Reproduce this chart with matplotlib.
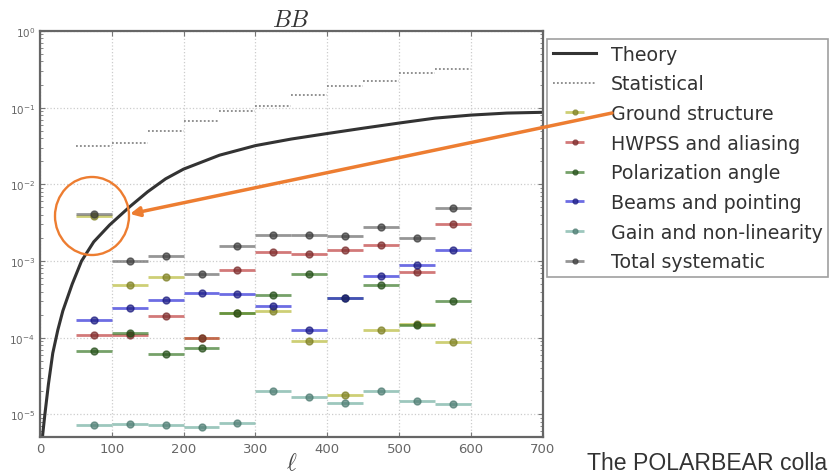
import matplotlib
matplotlib.use("Agg")
import matplotlib.pyplot as plt
from matplotlib.patches import Ellipse, FancyArrowPatch

plt.rcParams["mathtext.fontset"] = "cm"

# =========================
# DATA
# =========================

ell = [75, 125, 175, 225, 275, 325, 375, 425, 475, 525, 575]
bin_half = 25

theory_ell = [2, 4, 7, 12, 18, 25, 32, 45, 58, 75, 97, 125, 150, 175, 200,
              250, 300, 350, 400, 450, 500, 550, 600, 650, 700]
theory = [2.5e-6, 5.5e-6, 1.0e-5, 2.5e-5, 6.3e-5, 1.26e-4, 2.24e-4, 5.0e-4,
          1.0e-3, 1.78e-3, 2.95e-3, 5.1e-3, 8.0e-3, 0.0118, 0.0158, 0.024,
          0.032, 0.039, 0.046, 0.054, 0.063, 0.073, 0.080, 0.085, 0.087]

statistical = [0.032, 0.035, 0.049, 0.066, 0.091, 0.106, 0.147, 0.19,
               0.22, 0.28, 0.32]

ground = [3.9e-3, 4.9e-4, 6.2e-4, 1.0e-4, 2.1e-4, 2.2e-4, 9.1e-5, 1.77e-5,
          1.28e-4, 1.5e-4, 8.7e-5]
hwpss = [1.1e-4, 1.1e-4, 1.9e-4, 1.0e-4, 7.6e-4, 1.3e-3, 1.24e-3, 1.38e-3,
         1.6e-3, 7.2e-4, 3.0e-3]
pol_angle = [6.8e-5, 1.15e-4, 6.2e-5, 7.4e-5, 2.1e-4, 3.6e-4, 6.8e-4,
             3.3e-4, 4.9e-4, 1.48e-4, 3.0e-4]
beams = [1.7e-4, 2.45e-4, 3.1e-4, 3.8e-4, 3.7e-4, 2.6e-4, 1.27e-4, 3.3e-4,
         6.4e-4, 8.9e-4, 1.4e-3]
gain = [7.2e-6, 7.6e-6, 7.2e-6, 6.9e-6, 7.7e-6, 2.0e-5, 1.7e-5, 1.4e-5,
        2.0e-5, 1.5e-5, 1.35e-5]
total = [4.1e-3, 1.0e-3, 1.15e-3, 6.8e-4, 1.56e-3, 2.2e-3, 2.2e-3, 2.1e-3,
         2.8e-3, 2.0e-3, 4.9e-3]

series = [
    ("Ground structure", ground, "#b9bb3c", "#7d7f22"),
    ("HWPSS and aliasing", hwpss, "#c04040", "#7a2a2a"),
    ("Polarization angle", pol_angle, "#3c7a2a", "#244d18"),
    ("Beams and pointing", beams, "#2f2fd8", "#1a1a80"),
    ("Gain and non-linearity", gain, "#74b0a2", "#4c7a70"),
    ("Total systematic", total, "#6a6a6a", "#3a3a3a"),
]

# =========================
# FIGURE
# =========================

fig = plt.figure(figsize=(8.3, 4.77), dpi=100)
ax = fig.add_axes([0.048, 0.082, 0.606, 0.851])
w, h = fig.get_size_inches() * fig.dpi

ax.plot(theory_ell, theory, color="#333333", lw=2.2, label="Theory")

ax.hlines(statistical, [l - bin_half for l in ell], [l + bin_half for l in ell],
          colors="#888888", linestyles=(0, (1, 1.2)), lw=1.3, label="Statistical")

for name, vals, col, edge in series:
    ax.errorbar(ell, vals, xerr=bin_half, fmt="o", color=col, ecolor=col,
                elinewidth=2, ms=5, mfc=edge, mec=edge, alpha=0.7,
                capsize=0, label=name)

ax.set_yscale("log")
ax.set_xlim(0, 700)
ax.set_ylim(5.1e-6, 1)

ax.grid(True, which="major", color="#cccccc", linestyle=":", lw=0.9)
ax.tick_params(which="both", direction="in", top=True, right=True,
               colors="#777777", labelcolor="#666666")
ax.tick_params(axis="y", labelsize=7.5)
ax.tick_params(axis="x", labelsize=9.5)
for sp in ax.spines.values():
    sp.set_color("#666666")
    sp.set_linewidth(1.6)

ax.set_title("$BB$", fontsize=17, color="#333333", pad=3)
ax.set_xlabel(r"$\ell$", fontsize=17, color="#444444", labelpad=-3)

# =========================
# LEGEND
# =========================

leg = ax.legend(loc="upper left", bbox_to_anchor=(547 / w, 1 - 40 / h),
                bbox_transform=fig.transFigure, fontsize=13.7,
                frameon=True, fancybox=False, labelspacing=0.56,
                handlelength=2.3, handletextpad=0.75, borderpad=0.3,
                borderaxespad=0, markerscale=0.7)
leg.get_frame().set_edgecolor("#888888")
leg.get_frame().set_linewidth(1.2)
for t in leg.get_texts():
    t.set_color("#333333")

# =========================
# ANNOTATIONS
# =========================

orange = "#ed7d31"
ring = Ellipse((92 / w, 1 - 217 / h), 74 / w, 78 / h, transform=fig.transFigure,
               fill=False, edgecolor=orange, lw=1.7, zorder=10)
fig.add_artist(ring)
arrow = FancyArrowPatch((612 / w, 1 - 114 / h), (130 / w, 1 - 215 / h),
                        transform=fig.transFigure, arrowstyle="-|>",
                        color=orange, lw=2.5, mutation_scale=14,
                        shrinkA=0, shrinkB=0, zorder=10)
fig.add_artist(arrow)

fig.text(587 / w, 1 - 463 / h, "The POLARBEAR colla",
         fontsize=16.6, family="Liberation Sans", color="#333333",
         ha="left", va="center")

fig.savefig("out.png", dpi=100)
